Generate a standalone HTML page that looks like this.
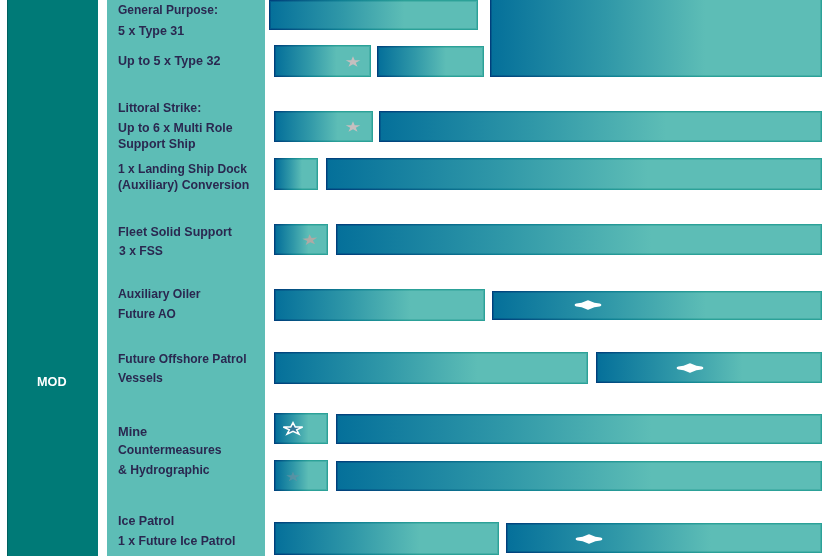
<!DOCTYPE html>
<html lang="en">
<head>
<meta charset="utf-8">
<title>MOD shipbuilding pipeline</title>
<style>

html,body{margin:0;padding:0;background:#fff;}
body{width:832px;height:556px;position:relative;overflow:hidden;font-family:"Liberation Sans",sans-serif;}
.col1{position:absolute;left:7px;top:0;width:91px;height:556px;background:#007a77;box-shadow:inset 1px 0 0 #00605f;}
.col2{position:absolute;left:107px;top:0;width:158px;height:556px;background:#5dbdb6;}
.bar{position:absolute;box-sizing:border-box;background:linear-gradient(to right,#003f7c 0%,#0f7f93 34%,#2ca198 65%,#2ca198 100%);}
.bar:before{content:"";position:absolute;left:1px;top:1px;right:1px;bottom:1px;background:linear-gradient(to right,#035a8c 0%,#218d9f 35%,#47b0a8 65%,#47b0a8 100%);}
.bar:after{content:"";position:absolute;left:2px;top:2px;right:2px;bottom:2px;background:linear-gradient(to right,#05709a 0%,#3098a8 35%,#5dbdb6 65%,#5dbdb6 100%);}
.t{position:absolute;white-space:nowrap;font-weight:bold;font-size:13px;line-height:15px;color:#2a2850;transform-origin:0 0;}
.mod{position:absolute;left:36.8px;top:374px;font-weight:bold;font-size:12.5px;line-height:16px;color:#fff;transform-origin:0 0;white-space:nowrap;}
svg{position:absolute;overflow:visible;}

</style>
</head>
<body>
<div class="col1"></div>
<div class="col2"></div>
<div class="mod" id="mod" style="transform:scaleX(1.0146759507230851)">MOD</div>
<div class="t" id="t0" style="left:118.3px;top:2.00px;transform:scaleX(0.9218)">General Purpose:</div>
<div class="t" id="t1" style="left:118.3px;top:23.00px;transform:scaleX(0.9575)">5 x Type 31</div>
<div class="t" id="t2" style="left:118.3px;top:53.00px;transform:scaleX(0.9663)">Up to 5 x Type 32</div>
<div class="t" id="t3" style="left:117.8px;top:100.00px;transform:scaleX(0.9452)">Littoral Strike:</div>
<div class="t" id="t4" style="left:117.8px;top:120.00px;transform:scaleX(0.9501)">Up to 6 x Multi Role</div>
<div class="t" id="t5" style="left:117.8px;top:136.00px;transform:scaleX(0.9509)">Support Ship</div>
<div class="t" id="t6" style="left:117.8px;top:161.00px;transform:scaleX(0.9245)">1 x Landing Ship Dock</div>
<div class="t" id="t7" style="left:117.8px;top:177.00px;transform:scaleX(0.9473)">(Auxiliary) Conversion</div>
<div class="t" id="t8" style="left:117.8px;top:224.00px;transform:scaleX(0.9566)">Fleet Solid Support</div>
<div class="t" id="t9" style="left:118.7px;top:243.00px;transform:scaleX(0.9347)">3 x FSS</div>
<div class="t" id="t10" style="left:117.8px;top:286.00px;transform:scaleX(0.9370)">Auxiliary Oiler</div>
<div class="t" id="t11" style="left:117.8px;top:306.00px;transform:scaleX(0.9163)">Future AO</div>
<div class="t" id="t12" style="left:117.8px;top:351.00px;transform:scaleX(0.9265)">Future Offshore Patrol</div>
<div class="t" id="t13" style="left:117.8px;top:370.00px;transform:scaleX(0.9409)">Vessels</div>
<div class="t" id="t14" style="left:117.8px;top:424.00px;transform:scaleX(0.9857)">Mine</div>
<div class="t" id="t15" style="left:117.8px;top:442.00px;transform:scaleX(0.9372)">Countermeasures</div>
<div class="t" id="t16" style="left:117.8px;top:462.00px;transform:scaleX(0.9393)">&amp; Hydrographic</div>
<div class="t" id="t17" style="left:117.8px;top:513.00px;transform:scaleX(0.9602)">Ice Patrol</div>
<div class="t" id="t18" style="left:117.8px;top:533.00px;transform:scaleX(0.9456)">1 x Future Ice Patrol</div>
<div class="bar" style="left:269px;top:0px;width:209px;height:30px"></div>
<div class="bar" style="left:490px;top:-2px;width:332px;height:79px"></div>
<div class="bar" style="left:274px;top:45px;width:97px;height:32px"></div>
<div class="bar" style="left:377px;top:46px;width:107px;height:31px"></div>
<div class="bar" style="left:274px;top:111px;width:99px;height:31px"></div>
<div class="bar" style="left:379px;top:111px;width:443px;height:31px"></div>
<div class="bar" style="left:274px;top:158px;width:44px;height:32px"></div>
<div class="bar" style="left:326px;top:158px;width:496px;height:32px"></div>
<div class="bar" style="left:274px;top:224px;width:54px;height:31px"></div>
<div class="bar" style="left:336px;top:224px;width:486px;height:31px"></div>
<div class="bar" style="left:274px;top:289px;width:211px;height:32px"></div>
<div class="bar" style="left:492px;top:291px;width:330px;height:29px"></div>
<div class="bar" style="left:274px;top:352px;width:314px;height:32px"></div>
<div class="bar" style="left:596px;top:352px;width:226px;height:31px"></div>
<div class="bar" style="left:274px;top:413px;width:54px;height:31px"></div>
<div class="bar" style="left:336px;top:414px;width:486px;height:30px"></div>
<div class="bar" style="left:274px;top:460px;width:54px;height:31px"></div>
<div class="bar" style="left:336px;top:461px;width:486px;height:30px"></div>
<div class="bar" style="left:274px;top:522px;width:225px;height:33px"></div>
<div class="bar" style="left:506px;top:523px;width:316px;height:30px"></div>
<svg style="left:353px;top:62.2px" width="1" height="1"><g transform="rotate(0) scale(7.7 5.8)"><polygon points="0,-1 0.2245,-0.309 0.951,-0.309 0.363,0.118 0.588,0.809 0,0.382 -0.588,0.809 -0.363,0.118 -0.951,-0.309 -0.2245,-0.309" fill="#c6bfbf" opacity="1" vector-effect="non-scaling-stroke"/></g></svg>
<svg style="left:353.2px;top:127.3px" width="1" height="1"><g transform="rotate(0) scale(7.7 5.8)"><polygon points="0,-1 0.2245,-0.309 0.951,-0.309 0.363,0.118 0.588,0.809 0,0.382 -0.588,0.809 -0.363,0.118 -0.951,-0.309 -0.2245,-0.309" fill="#c6bfbf" opacity="1" vector-effect="non-scaling-stroke"/></g></svg>
<svg style="left:309.6px;top:239.9px" width="1" height="1"><g transform="rotate(-5) scale(7.9 5.8)"><polygon points="0,-1 0.2245,-0.309 0.951,-0.309 0.363,0.118 0.588,0.809 0,0.382 -0.588,0.809 -0.363,0.118 -0.951,-0.309 -0.2245,-0.309" fill="#aeaaa5" opacity="1" vector-effect="non-scaling-stroke"/></g></svg>
<svg style="left:292.9px;top:429.3px" width="1" height="1"><g transform="rotate(0) scale(10.2 6.3)"><polygon points="0,-1 0.2245,-0.309 0.951,-0.309 0.363,0.118 0.588,0.809 0,0.382 -0.588,0.809 -0.363,0.118 -0.951,-0.309 -0.2245,-0.309" fill="#34789a" stroke="#ffffff" stroke-width="1.5" stroke-linejoin="miter" opacity="1" vector-effect="non-scaling-stroke"/></g></svg>
<svg style="left:293.4px;top:476.6px" width="1" height="1"><g transform="rotate(0) scale(7.2 5.4)"><polygon points="0,-1 0.2245,-0.309 0.951,-0.309 0.363,0.118 0.588,0.809 0,0.382 -0.588,0.809 -0.363,0.118 -0.951,-0.309 -0.2245,-0.309" fill="#6790a2" opacity="0.7" vector-effect="non-scaling-stroke"/></g></svg>
<svg style="left:587.6px;top:305.2px" width="1" height="1"><path d="M-13.4,0 Q-13.3,-1.2 -11.6,-1.5 L-6.4,-2.3 L-0.8,-4.5 Q0,-4.9 0.8,-4.5 L6.4,-2.3 L11.6,-1.5 Q13.3,-1.2 13.4,0 Q13.3,1.2 11.6,1.5 L6.4,2.3 L0.8,4.5 Q0,4.9 -0.8,4.5 L-6.4,2.3 L-11.6,1.5 Q-13.3,1.2 -13.4,0 Z" fill="#fff"/></svg>
<svg style="left:690.3px;top:368.4px" width="1" height="1"><path d="M-13.4,0 Q-13.3,-1.2 -11.6,-1.5 L-6.4,-2.3 L-0.8,-4.5 Q0,-4.9 0.8,-4.5 L6.4,-2.3 L11.6,-1.5 Q13.3,-1.2 13.4,0 Q13.3,1.2 11.6,1.5 L6.4,2.3 L0.8,4.5 Q0,4.9 -0.8,4.5 L-6.4,2.3 L-11.6,1.5 Q-13.3,1.2 -13.4,0 Z" fill="#fff"/></svg>
<svg style="left:588.8px;top:538.7px" width="1" height="1"><path d="M-13.4,0 Q-13.3,-1.2 -11.6,-1.5 L-6.4,-2.3 L-0.8,-4.5 Q0,-4.9 0.8,-4.5 L6.4,-2.3 L11.6,-1.5 Q13.3,-1.2 13.4,0 Q13.3,1.2 11.6,1.5 L6.4,2.3 L0.8,4.5 Q0,4.9 -0.8,4.5 L-6.4,2.3 L-11.6,1.5 Q-13.3,1.2 -13.4,0 Z" fill="#fff"/></svg>
</body>
</html>
